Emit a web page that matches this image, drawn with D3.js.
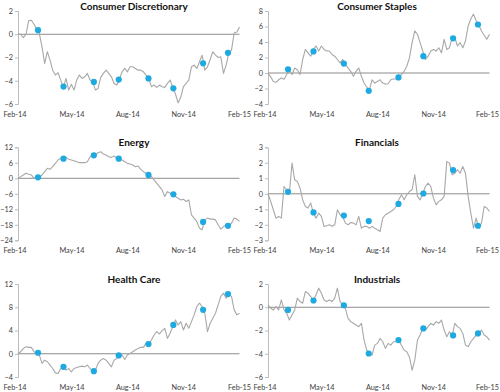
<!DOCTYPE html>
<html><head><meta charset="utf-8">
<script src="https://cdn.jsdelivr.net/npm/d3@7"></script>
<style>body{margin:0;background:#fff}svg{display:block}</style>
</head><body>
<script>
const categories = ["Consumer Discretionary","Consumer Staples","Energy","Financials","Health Care","Industrials"];
const xTickLabels = ["Feb-14","May-14","Aug-14","Nov-14","Feb-15"];
const xTickDates = ["2014-02-01","2014-05-01","2014-08-01","2014-11-01","2015-02-01"];
const lineStart = "2014-02-01", lineEnd = "2015-02-01";
const dotDates = ["2014-03-06","2014-04-17","2014-06-06","2014-07-17","2014-09-04","2014-10-15","2014-12-03","2015-01-13"];

const yTicksDiscretionary = [-6,-4,-2,0,2];
const yTicksStaples = [-4,-2,0,2,4,6,8];
const yTicksEnergy = [-24,-18,-12,-6,0,6,12];
const yTicksFinancials = [-3,-2,-1,0,1,2,3];
const yTicksHealth = [-4,0,4,8,12];
const yTicksIndustrials = [-6,-4,-2,0,2];

const discretionary = [0,0,-0.29,0,1.17,1.2,0.86,0.46,0.06,-1.09,-2.51,-1.5,-2.23,-3.09,-3.51,-3.3,-3.95,-4.57,-3.8,-4.8,-4.3,-4.8,-3.94,-3.51,-3.8,-3.66,-3.37,-3.94,-4.09,-4.8,-4.66,-3.71,-3.37,-3.09,-3.37,-3.66,-4.23,-4.37,-3.89,-3.23,-2.94,-3.23,-2.8,-2.8,-2.94,-3.09,-3.09,-3.23,-3.51,-3.83,-4.51,-4.37,-4.57,-4.37,-4.51,-4.57,-4.23,-3.94,-4.57,-5.14,-5.9,-5.4,-4.51,-4.23,-3.94,-2.8,-2.66,-2.94,-2.37,-1.8,-3.09,-2.8,-2.17,-1.51,-1.8,-2.0,-1.94,-3.37,-2.66,-1.6,-1.37,0.11,0.2,0.63];
const staples = [0,-0.5,-1.1,-1.2,-0.87,-0.65,-0.8,-0.2,0.35,-0.2,0.65,0.43,-0.2,1.74,3.04,2.6,2.17,3.04,3.48,2.83,3.48,3.04,2.83,2.83,2.39,2.17,1.74,1.3,1.74,1.09,0.65,0.22,-0.43,0.22,0.65,-0.43,-1.3,-1.83,-2.17,-0.87,-1.3,-1.09,-0.87,-1.3,-1.43,-1.39,-0.87,-0.78,-0.78,-0.52,-0.22,0.22,0.87,1.96,3.91,5.43,5.0,3.91,2.83,1.74,2.17,2.83,3.04,2.83,3.26,2.6,4.35,3.04,3.26,4.57,4.57,3.48,3.91,3.26,4.13,6.09,6.96,7.6,6.74,6.17,5.43,4.87,4.35,5.0];
const energy = [0,0.64,1.29,1.93,1.54,1.29,0,0.64,0.39,1.29,2.57,3.86,3.47,4.5,5.79,7.08,7.72,7.46,8.1,7.34,7.08,6.82,6.44,6.05,6.05,6.05,6.44,8.37,8.62,9.0,9.9,10.3,9.4,9.0,8.37,8.1,8.62,7.72,7.6,7.08,6.44,5.79,5.53,5.15,4.5,4.76,3.47,2.57,1.93,1.29,0.64,-0.64,-1.93,-3.22,-4.5,-7.08,-5.15,-5.79,-6.05,-7.08,-7.72,-8.37,-8.1,-9.0,-8.37,-14.2,-15.4,-16.7,-19.3,-19.9,-16.1,-15.4,-15.8,-15.8,-16.1,-18.0,-19.7,-18.7,-18.0,-18.4,-17.4,-15.4,-15.8,-16.7];
const financials = [0,-0.5,-1.03,-1.57,-1.46,-1.57,0.47,0.26,0.04,1.98,0.9,0.8,0.37,-0.39,-0.82,-0.92,-0.6,-1.25,-1.57,-1.25,-1.46,-2.1,-2.06,-2.0,-2.1,-2.0,-1.03,-1.35,-1.5,-1.89,-2.0,-1.85,-1.89,-2.0,-1.46,-2.22,-2.1,-2.1,-2.22,-2.1,-2.22,-2.32,-2.43,-1.57,-1.35,-1.25,-1.14,-1.03,-0.82,-0.39,-0.06,-0.39,-0.06,0.15,0.26,1.23,-0.17,-0.39,0.04,0.47,0.69,0.47,-0.28,-0.71,-0.49,-0.39,-0.17,2.09,1.98,1.23,1.33,1.55,1.33,1.76,1.33,-0.17,-1.25,-2.22,-1.57,-2.22,-1.89,-0.82,-0.92,-1.14];
const healthCare = [0,0.35,0.92,1.21,1.1,1.1,0.35,0.06,-0.23,-1.67,-1.1,-1.38,-1.96,-2.54,-3.29,-3.4,-2.54,-2.25,-2.82,-2.54,-3.11,-2.54,-2.36,-2.25,-2.13,-2.25,-1.96,-2.54,-3.11,-2.82,-1.67,-1.1,-0.81,-1.1,-1.67,-2.25,-1.1,-0.81,-0.4,-0.23,-0.98,-0.23,0.06,0.35,0.63,0.92,1.1,1.1,1.79,1.67,2.36,3.23,3.8,3.4,3.98,4.38,2.65,3.52,4.67,5.82,4.96,5.53,4.09,5.24,4.38,5.53,6.69,8.13,8.7,8.13,6.97,3.8,5.24,6.11,6.97,8.41,9.86,10.43,9.57,10.26,9.86,7.55,6.69,6.97];
const industrials = [0.2,-0.09,-0.23,0.06,-0.23,0.63,-0.23,-0.52,-1.1,-0.66,-0.23,0.78,0.49,0.35,1.35,1.21,0.92,0.58,1.07,1.64,1.21,0.63,0.49,0.63,0.49,0.78,1.64,0.49,0.2,-0.09,-0.95,-1.24,-1.38,-1.53,-1.67,-1.38,-2.82,-3.69,-4.03,-4.12,-3.26,-3.11,-2.68,-2.97,-3.54,-3.11,-3.26,-2.97,-2.97,-2.82,-3.26,-3.69,-3.83,-4.27,-5.42,-4.55,-2.82,-2.39,-1.82,-1.96,-1.67,-1.38,-1.53,-1.24,-1.38,-1.1,-1.96,-2.54,-2.1,-2.48,-1.38,-1.67,-1.82,-2.25,-3.26,-3.4,-2.97,-2.68,-2.39,-2.25,-1.96,-2.39,-2.54,-2.82];

const dotsDiscretionary = [0.35,-4.5,-4.1,-3.9,-3.8,-4.65,-2.5,-1.6];
const dotsStaples = [0.48,2.78,1.22,-2.3,-0.57,2.17,4.48,6.26];
const dotsEnergy = [0.39,7.6,8.9,7.6,1.29,-6.2,-16.9,-18.4];
const dotsFinancials = [0.13,-1.2,-1.4,-1.76,-0.65,0.02,1.53,-2.06];
const dotsHealth = [0.17,-2.25,-3.0,-0.29,1.67,4.96,7.55,10.26];
const dotsIndustrials = [-0.23,0.58,0.17,-3.98,-2.82,-1.82,-2.42,-2.25];

const panels = [
  {title: categories[0], values: discretionary, dots: dotsDiscretionary, ticks: yTicksDiscretionary},
  {title: categories[1], values: staples, dots: dotsStaples, ticks: yTicksStaples},
  {title: categories[2], values: energy, dots: dotsEnergy, ticks: yTicksEnergy},
  {title: categories[3], values: financials, dots: dotsFinancials, ticks: yTicksFinancials},
  {title: categories[4], values: healthCare, dots: dotsHealth, ticks: yTicksHealth},
  {title: categories[5], values: industrials, dots: dotsIndustrials, ticks: yTicksIndustrials}
];

const W = 500, H = 392;
const colLeft = [18, 268], plotW = 221.5;
const rowTop = [11, 147.3, 284], plotH = 93;
const titleX = [134, 377];
const parse = d3.timeParse("%Y-%m-%d");
const FONT = "Lato, 'Open Sans', sans-serif";

const svg = d3.select("body").append("svg").attr("width", W).attr("height", H);

panels.forEach((p, k) => {
  const col = k % 2, row = Math.floor(k / 2);
  const x0 = colLeft[col], y0 = rowTop[row];
  const x = d3.scaleTime().domain([parse(xTickDates[0]), parse(xTickDates[4])]).range([x0, x0 + plotW]);
  const y = d3.scaleLinear().domain(d3.extent(p.ticks)).range([y0 + plotH, y0]);
  const idx = d3.scaleLinear().domain([0, p.values.length - 1]).range([parse(lineStart).getTime(), parse(lineEnd).getTime()]);
  const g = svg.append("g");

  // y axis
  const ya = g.append("g").attr("transform", `translate(${x0},0)`)
    .call(d3.axisLeft(y).tickValues(p.ticks).tickSize(3).tickPadding(2).tickFormat(d3.format("d")));
  ya.select(".domain").attr("stroke", "#bdbdbd");
  ya.selectAll(".tick line").attr("stroke", "#bdbdbd");
  ya.selectAll("text").attr("font-family", FONT).attr("font-size", 7.3).attr("fill", "#404040");

  // zero line
  g.append("line").attr("x1", x0).attr("x2", x0 + plotW).attr("y1", y(0)).attr("y2", y(0))
    .attr("stroke", "#8c8c8c").attr("stroke-width", 1);

  // x tick labels
  g.selectAll(".xl").data(xTickLabels).join("text")
    .attr("x", (d, i) => x(parse(xTickDates[i])) + (i === 0 ? -3 : 0))
    .attr("y", y0 + plotH + 13)
    .attr("text-anchor", "middle")
    .attr("font-family", FONT).attr("font-size", 7.3).attr("fill", "#404040")
    .text(d => d)
    .each(function() {
      const w = this.getComputedTextLength();
      const cx = +this.getAttribute("x");
      if (cx + w / 2 > W - 1) this.setAttribute("x", W - 1 - w / 2);
    });

  // line
  const line = d3.line().x((d, i) => x(new Date(idx(i)))).y(d => y(d));
  g.append("path").datum(p.values).attr("d", line)
    .attr("fill", "none").attr("stroke", "#a8a8a8").attr("stroke-width", 1.1).attr("stroke-linejoin", "round");

  // dots
  g.selectAll(".dot").data(p.dots).join("circle")
    .attr("cx", (d, i) => x(parse(dotDates[i])))
    .attr("cy", d => y(d))
    .attr("r", 3.1).attr("fill", "#1fa9e1");

  // title
  g.append("text").attr("x", titleX[col]).attr("y", y0 - 1)
    .attr("text-anchor", "middle")
    .attr("font-family", FONT).attr("font-weight", "bold").attr("font-size", 10).attr("fill", "#111")
    .text(p.title);
});
</script>
</body></html>
